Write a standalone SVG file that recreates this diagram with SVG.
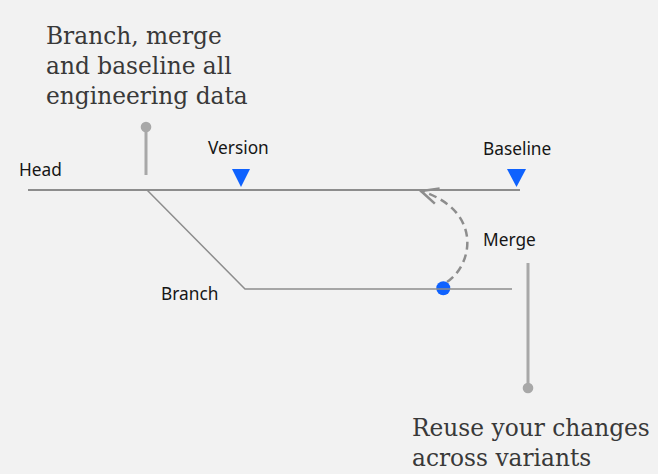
<svg xmlns="http://www.w3.org/2000/svg" width="658" height="474" viewBox="0 0 658 474">
<style>
.serif{font-family:"DejaVu Serif","Liberation Serif",serif;font-size:23.3px;fill:#393939}
.sans{font-family:"Noto Sans","Liberation Sans",sans-serif;font-size:17.3px;fill:#161616}
.track{stroke:#8d8d8d;stroke-width:2;fill:none}
.pin{stroke:#a8a8a8;stroke-width:3;fill:none}
.pindot{fill:#a8a8a8}
.mark{fill:#0f62fe}
</style>
<defs>
<marker id="chev" markerUnits="userSpaceOnUse" markerWidth="24" markerHeight="24" refX="19" refY="10" orient="auto" viewBox="0 0 24 20">
<polyline points="2,2 19,10 2,18" fill="none" stroke="#8d8d8d" stroke-width="2.5"/>
</marker>
</defs>
<rect width="658" height="474" fill="#f2f2f2"/>
<g id="note-top">
<text class="serif" x="46" y="44">Branch, merge</text>
<text class="serif" x="46" y="74">and baseline all</text>
<text class="serif" x="46" y="104">engineering data</text>
<line class="pin" x1="146" y1="127" x2="146" y2="175"/>
<circle class="pindot" cx="146" cy="127" r="5.3"/>
</g>
<g id="note-bottom">
<text class="serif" x="412" y="436">Reuse your changes</text>
<text class="serif" x="412" y="466">across variants</text>
<line class="pin" x1="528" y1="263" x2="528" y2="388"/>
<circle class="pindot" cx="528" cy="388" r="5.3"/>
</g>
<g id="head">
<text class="sans" x="19" y="176">Head</text>
</g>
<g id="version">
<text class="sans" x="208" y="154">Version</text>
<polygon class="mark" points="232,169 250,169 241,187"/>
</g>
<g id="baseline">
<text class="sans" x="483" y="155">Baseline</text>
<polygon class="mark" points="507,169 526,169 516.5,187"/>
</g>
<g id="branch">
<text class="sans" x="161" y="300">Branch</text>
</g>
<g id="merge">
<text class="sans" x="483" y="246">Merge</text>
<circle class="mark" cx="443.3" cy="288.3" r="7"/>
</g>
<g id="connectors">
<line class="track" x1="28" y1="190" x2="520" y2="190"/>
<polyline class="track" style="stroke-width:1.5" points="147,190 245,289 512,289"/>
<path class="track" style="stroke-width:2.5" stroke-dasharray="8,5" d="M447,282 C474,264 482,210 421,191" marker-end="url(#chev)"/>
</g>
</svg>
